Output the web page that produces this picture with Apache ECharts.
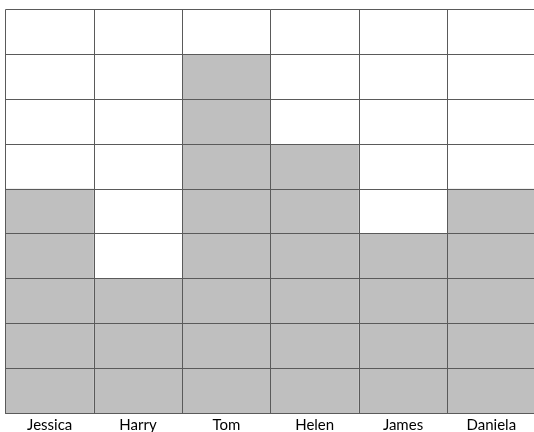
<!DOCTYPE html>
<html>
<head>
<meta charset="utf-8">
<script src="https://cdn.jsdelivr.net/npm/echarts@6/dist/echarts.min.js"></script>
<style>html,body{margin:0;padding:0;background:#fff}#c{width:534px;height:432px}</style>
</head>
<body>
<div id="c"></div>
<script>
const names = ['Jessica', 'Harry', 'Tom', 'Helen', 'James', 'Daniela'];
const values = [5, 3, 8, 6, 4, 5];
const yMax = 9;

const chart = echarts.init(document.getElementById('c'), null, {renderer: 'canvas'});
chart.setOption({
  animation: false,
  grid: {left: 5.5, top: 9.5, right: -1.5, bottom: 19, outerBoundsMode: 'none', containLabel: false},
  xAxis: {
    type: 'category',
    data: names,
    z: 10,
    axisLine: {show: true, lineStyle: {color: '#5a5a5a', width: 1}},
    axisTick: {show: false},
    axisLabel: {color: '#000', fontFamily: 'Lato, "Open Sans", sans-serif', fontSize: 15, margin: 5, interval: 0},
    splitLine: {show: true, interval: 0, lineStyle: {color: '#5a5a5a', width: 1}}
  },
  yAxis: {
    type: 'value',
    min: 0, max: yMax, interval: 1,
    z: 10,
    axisLine: {show: false},
    axisTick: {show: false},
    axisLabel: {show: false},
    splitLine: {show: true, lineStyle: {color: '#5a5a5a', width: 1}}
  },
  series: [{
    type: 'bar',
    data: values,
    barCategoryGap: '0%',
    itemStyle: {color: '#bfbfbf'}
  }]
});
</script>
</body>
</html>
